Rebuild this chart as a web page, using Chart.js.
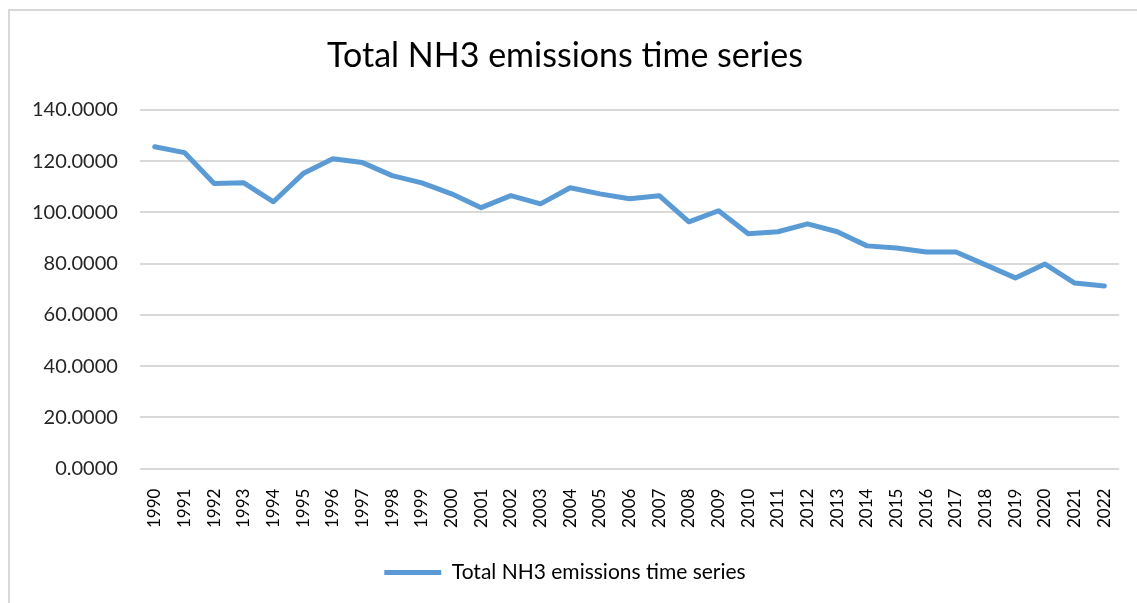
<!DOCTYPE html>
<html>
<head>
<meta charset="utf-8">
<script src="https://cdn.jsdelivr.net/npm/chart.js@4"></script>
<style>
  html, body { margin: 0; padding: 0; background: #fff; overflow: hidden; }
  #frame {
    position: absolute; left: 8px; top: 9px; width: 1200px; height: 700px;
    border-left: 2px solid #d9d9d9; border-top: 2px solid #d9d9d9;
  }
  #wrap { position: absolute; left: 0; top: 0; width: 1137px; height: 603px; }
</style>
</head>
<body>
<div id="frame"></div>
<div id="wrap"><canvas id="nh3Chart"></canvas></div>
<script>
  // Data
  const years = ["1990", "1991", "1992", "1993", "1994", "1995", "1996", "1997", "1998", "1999",
    "2000", "2001", "2002", "2003", "2004", "2005", "2006", "2007", "2008", "2009",
    "2010", "2011", "2012", "2013", "2014", "2015", "2016", "2017", "2018", "2019",
    "2020", "2021", "2022"];
  const emissions = [125.6, 123.3, 111.2, 111.5, 104.1, 115.1, 120.9, 119.4, 114.3, 111.5,
    107.2, 101.8, 106.5, 103.3, 109.6, 107.2, 105.3, 106.5, 96.3, 100.6,
    91.6, 92.4, 95.5, 92.4, 86.9, 86.1, 84.5, 84.5, 79.5, 74.4,
    79.8, 72.4, 71.2];
  const yTicks = [0, 20, 40, 60, 80, 100, 120, 140];
  const seriesName = "Total NH3 emissions time series";

  const fontFamily = "Lato, 'Liberation Sans', sans-serif";

  document.addEventListener("DOMContentLoaded", function () {
    const config = {
      type: "line",
      data: {
        labels: years,
        datasets: [
          {
            label: seriesName,
            data: emissions,
            borderColor: "#5B9BD5",
            backgroundColor: "#5B9BD5",
            borderWidth: 5,
            pointRadius: 0,
            tension: 0,
            borderCapStyle: "round",
            borderJoinStyle: "round",
          },
        ],
      },
      options: {
        responsive: true,
        maintainAspectRatio: false,
        animation: false,
        layout: {
          padding: { left: 10, right: 17, top: 36, bottom: 10 },
        },
        plugins: {
          title: {
            display: true,
            text: seriesName,
            color: "#000",
            font: { family: fontFamily, size: 34, weight: "normal" },
            padding: { top: 0, bottom: 33 },
          },
          legend: {
            position: "bottom",
            labels: {
              color: "#000",
              font: { family: fontFamily, size: 21 },
              boxWidth: 57,
              boxHeight: 5,
              padding: 22,
              generateLabels: function (chart) {
                const items = Chart.defaults.plugins.legend.labels.generateLabels(chart);
                items.forEach(function (it) {
                  it.lineWidth = 0;
                  it.fillStyle = "#5B9BD5";
                });
                return items;
              },
            },
          },
          tooltip: { enabled: false },
        },
        scales: {
          x: {
            offset: true,
            grid: { display: false },
            border: { display: false },
            ticks: {
              color: "#000",
              font: { family: fontFamily, size: 17 },
              maxRotation: 90,
              minRotation: 90,
              autoSkip: false,
              padding: 12,
            },
          },
          y: {
            min: 0,
            max: 140,
            afterBuildTicks: function (axis) {
              axis.ticks = yTicks.map(function (v) { return { value: v }; });
            },
            grid: { color: "#d9d9d9", lineWidth: 2, drawTicks: false },
            border: { display: false },
            ticks: {
              color: "#262626",
              font: { family: fontFamily, size: 20 },
              padding: 22,
              callback: function (v) { return Number(v).toFixed(4); },
            },
          },
        },
      },
    };

    new Chart(document.getElementById("nh3Chart"), config);
  });
</script>
</body>
</html>
